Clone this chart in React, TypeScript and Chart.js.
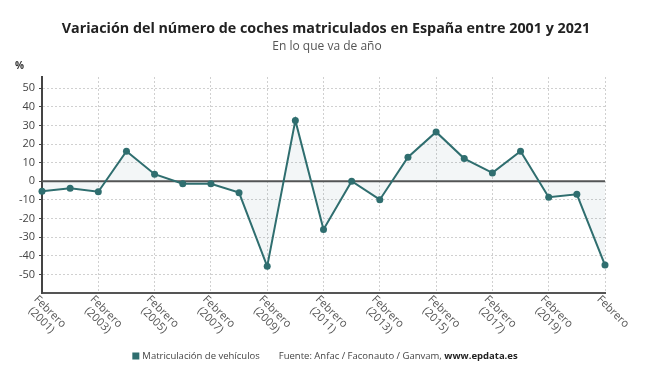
import React, { useEffect, useRef } from 'react';
import { Chart, registerables } from 'chart.js';

Chart.register(...registerables);

const categories = [
  'Febrero (2001)', 'Febrero (2002)', 'Febrero (2003)', 'Febrero (2004)', 'Febrero (2005)',
  'Febrero (2006)', 'Febrero (2007)', 'Febrero (2008)', 'Febrero (2009)', 'Febrero (2010)',
  'Febrero (2011)', 'Febrero (2012)', 'Febrero (2013)', 'Febrero (2014)', 'Febrero (2015)',
  'Febrero (2016)', 'Febrero (2017)', 'Febrero (2018)', 'Febrero (2019)', 'Febrero (2020)',
  'Febrero',
];
const values = [
  -5.3, -3.8, -5.6, 16.1, 3.8, -1.3, -1.3, -6.1, -45.7, 32.7,
  -25.9, 0, -9.9, 12.9, 26.5, 12.2, 4.5, 16.1, -8.6, -7.0, -45.0,
];
const yTicks = [-50, -40, -30, -20, -10, 0, 10, 20, 30, 40, 50];

const titleText = 'Variación del número de coches matriculados en España entre 2001 y 2021';
const subtitleText = 'En lo que va de año';
const unitText = '%';
const seriesName = 'Matriculación de vehículos';
const sourceText = 'Fuente: Anfac / Faconauto / Ganvam, ';
const sourceLink = 'www.epdata.es';

const FONT = "'Open Sans', sans-serif";
const LINE = '#2f6e6f';

export default function App() {
  const ref = useRef<HTMLCanvasElement>(null);

  useEffect(() => {
    document.body.style.margin = '0';
    const custom = {
      id: 'custom',
      beforeDatasetsDraw(chart: any) {
        const { ctx, chartArea, scales } = chart;
        const y0 = scales.y.getPixelForValue(0);
        ctx.save();
        ctx.strokeStyle = '#555';
        ctx.lineWidth = 2;
        ctx.beginPath();
        ctx.moveTo(chartArea.left, y0);
        ctx.lineTo(chartArea.right, y0);
        ctx.stroke();
        ctx.restore();
      },
      afterDraw(chart: any) {
        const { ctx, chartArea, scales } = chart;
        const cx = chart.width / 2;
        ctx.save();
        // title + subtitle
        ctx.textAlign = 'center';
        ctx.textBaseline = 'alphabetic';
        ctx.fillStyle = '#222';
        ctx.font = `bold 14.3px ${FONT}`;
        ctx.fillText(titleText, cx + 1, 32.7);
        ctx.fillStyle = '#555';
        ctx.font = `12px ${FONT}`;
        ctx.fillText(subtitleText, cx + 2, 50);

        // unit
        ctx.fillStyle = '#333';
        ctx.font = `bold 10px ${FONT}`;
        ctx.textAlign = 'left';
        ctx.textBaseline = 'middle';
        ctx.fillText(unitText, 15, 66);

        // x labels
        ctx.font = `11px ${FONT}`;
        ctx.fillStyle = '#555';
        categories.forEach((lab, i) => {
          if (i % 2 !== 0) return;
          const x = scales.x.getPixelForValue(i);
          const lines = lab.split(' ');
          const w = Math.max(...lines.map((l) => ctx.measureText(l).width));
          ctx.save();
          ctx.translate(x, chartArea.bottom + 1);
          ctx.rotate(Math.PI / 4);
          ctx.textAlign = 'center';
          ctx.textBaseline = 'middle';
          lines.forEach((l, k) => {
            ctx.fillText(l, w / 2 - 2, 7 + k * 12);
          });
          ctx.restore();
        });

        // legend + source
        const ly = 356;
        const fs = 9.5;
        ctx.font = `${fs}px ${FONT}`;
        const w1 = ctx.measureText(seriesName).width;
        const w2 = ctx.measureText(sourceText).width;
        ctx.font = `bold ${fs}px ${FONT}`;
        const w3 = ctx.measureText(sourceLink).width;
        const total = 7 + 3 + w1 + 19 + w2 + w3;
        let x = (chart.width - total) / 2;
        ctx.fillStyle = LINE;
        ctx.fillRect(x, ly - 3.5, 7, 7);
        x += 10;
        ctx.fillStyle = '#444';
        ctx.textBaseline = 'middle';
        ctx.textAlign = 'left';
        ctx.font = `${fs}px ${FONT}`;
        ctx.fillText(seriesName, x, ly);
        x += w1 + 19;
        ctx.fillText(sourceText, x, ly);
        x += w2;
        ctx.fillStyle = '#222';
        ctx.font = `bold ${fs}px ${FONT}`;
        ctx.fillText(sourceLink, x, ly);
        ctx.restore();
      },
    };

    const chart = new Chart(ref.current!, {
      type: 'line',
      data: {
        labels: categories,
        datasets: [
          {
            label: seriesName,
            data: values,
            borderColor: LINE,
            backgroundColor: 'rgba(47,110,111,0.06)',
            fill: 'origin',
            pointRadius: 3.5,
            pointBackgroundColor: LINE,
            pointBorderColor: LINE,
            pointBorderWidth: 0,
            borderWidth: 2,
            tension: 0,
          },
        ],
      },
      options: {
        animation: false,
        responsive: false,
        maintainAspectRatio: false,
        layout: { padding: { left: 0, right: 45, top: 77, bottom: 0 } },
        plugins: {
          legend: { display: false },
          tooltip: { enabled: false },
          title: { display: false },
          subtitle: { display: false },
        },
        scales: {
          x: {
            type: 'category',
            offset: false,
            ticks: { display: false },
            grid: {
              color: (c: any) => (c.index % 2 === 0 ? '#d0d0d0' : 'rgba(0,0,0,0)'),
              lineWidth: 1,
              drawTicks: false,
            },
            border: { display: true, color: '#555', width: 2, dash: [2, 2] },
            afterFit: (s: any) => {
              s.height = 89;
            },
          },
          y: {
            min: -60,
            max: 56,
            afterBuildTicks: (s: any) => {
              s.ticks = yTicks.map((v) => ({ value: v }));
            },
            ticks: { font: { family: FONT, size: 11 }, color: '#444', padding: 4 },
            grid: { color: '#d0d0d0', drawTicks: true, tickLength: 3, tickColor: '#444' },
            border: { display: true, color: '#444', width: 2, dash: [2, 2] },
            afterFit: (s: any) => {
              s.width = 42;
            },
          },
        },
      },
      plugins: [custom],
    } as any);
    return () => chart.destroy();
  }, []);

  return (
    <div style={{ width: 650, height: 382, background: '#fff' }}>
      <canvas ref={ref} width={650} height={382} style={{ display: 'block' }} />
    </div>
  );
}
